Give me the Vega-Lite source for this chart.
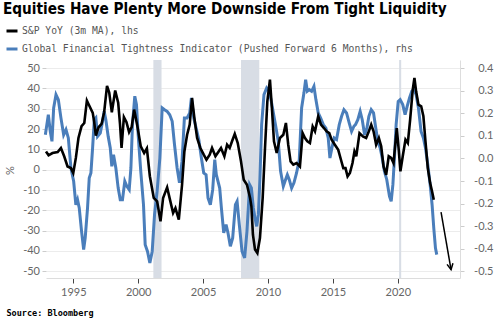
{
  "$schema": "https://vega.github.io/schema/vega-lite/v6.json",
  "width": 414,
  "height": 218,
  "autosize": {"type": "none"},
  "padding": {"left": 46, "top": 60, "right": 40, "bottom": 44},
  "background": "white",
  "config": {"view": {"stroke": null}, "font": "Lato"},
  "title": {"text": "Equities Have Plenty More Downside From Tight Liquidity", "anchor": "start", "frame": "group", "font": "DejaVu Sans Condensed", "fontWeight": "bold", "fontSize": 15.2, "color": "#000000", "dx": -43, "dy": 13, "offset": 8, "baseline": "alphabetic"},
  "datasets": {
    "spx": [
      {"t": 1992.9, "v": 9.0}, {"t": 1993.1, "v": 7.1}, {"t": 1993.4, "v": 8.2}, {"t": 1993.8, "v": 8.7}, {"t": 1994.05, "v": 10.7}, {"t": 1994.3, "v": 6.6}, {"t": 1994.56, "v": 1.6}, {"t": 1994.82, "v": 0.8}, {"t": 1995.0, "v": -1.6}, {"t": 1995.2, "v": 5.8}, {"t": 1995.4, "v": 15.6}, {"t": 1995.64, "v": 21.4}, {"t": 1995.85, "v": 23}, {"t": 1996.05, "v": 34}, {"t": 1996.2, "v": 32}, {"t": 1996.5, "v": 28}, {"t": 1996.6, "v": 24}, {"t": 1996.74, "v": 16.8}, {"t": 1996.95, "v": 20.9}, {"t": 1997.18, "v": 22.5}, {"t": 1997.38, "v": 28.3}, {"t": 1997.6, "v": 41.3}, {"t": 1997.77, "v": 38}, {"t": 1997.97, "v": 28.3}, {"t": 1998.23, "v": 39}, {"t": 1998.46, "v": 33}, {"t": 1998.6, "v": 22.5}, {"t": 1998.72, "v": 10.7}, {"t": 1998.9, "v": 25.9}, {"t": 1999.1, "v": 23.4}, {"t": 1999.3, "v": 18.5}, {"t": 1999.5, "v": 21}, {"t": 1999.69, "v": 29.6}, {"t": 1999.95, "v": 21}, {"t": 2000.2, "v": 11.5}, {"t": 2000.46, "v": 8.2}, {"t": 2000.67, "v": 10.5}, {"t": 2000.9, "v": -3.2}, {"t": 2001.2, "v": -13.9}, {"t": 2001.46, "v": -15.6}, {"t": 2001.72, "v": -25.4}, {"t": 2001.92, "v": -13.9}, {"t": 2002.23, "v": -8.7}, {"t": 2002.48, "v": -15.6}, {"t": 2002.69, "v": -21.3}, {"t": 2002.87, "v": -18.9}, {"t": 2003.13, "v": -24.6}, {"t": 2003.38, "v": -7.4}, {"t": 2003.56, "v": 9}, {"t": 2003.77, "v": 17.2}, {"t": 2003.97, "v": 22.2}, {"t": 2004.15, "v": 35.3}, {"t": 2004.33, "v": 25.4}, {"t": 2004.54, "v": 15.6}, {"t": 2004.79, "v": 10.7}, {"t": 2005.05, "v": 7.4}, {"t": 2005.26, "v": 4.9}, {"t": 2005.51, "v": 7.4}, {"t": 2005.69, "v": 10.7}, {"t": 2005.95, "v": 6.6}, {"t": 2006.2, "v": 9}, {"t": 2006.38, "v": 10.7}, {"t": 2006.64, "v": 6.6}, {"t": 2006.85, "v": 12.3}, {"t": 2007.05, "v": 10.7}, {"t": 2007.23, "v": 14}, {"t": 2007.44, "v": 17.6}, {"t": 2007.67, "v": 13.1}, {"t": 2007.92, "v": 4.1}, {"t": 2008.13, "v": -4.9}, {"t": 2008.38, "v": -7.4}, {"t": 2008.62, "v": -13.9}, {"t": 2008.72, "v": -18}, {"t": 2008.84, "v": -32}, {"t": 2009.0, "v": -39.3}, {"t": 2009.18, "v": -41}, {"t": 2009.38, "v": -33.6}, {"t": 2009.59, "v": -13.9}, {"t": 2009.77, "v": 10.7}, {"t": 2009.95, "v": 33.7}, {"t": 2010.15, "v": 44.3}, {"t": 2010.3, "v": 30.4}, {"t": 2010.46, "v": 14}, {"t": 2010.67, "v": 8.2}, {"t": 2010.92, "v": 15.6}, {"t": 2011.18, "v": 17.2}, {"t": 2011.38, "v": 23}, {"t": 2011.56, "v": 12.3}, {"t": 2011.74, "v": 4.1}, {"t": 2011.95, "v": 2.5}, {"t": 2012.2, "v": 3.3}, {"t": 2012.46, "v": 1.6}, {"t": 2012.67, "v": 18}, {"t": 2012.85, "v": 15.6}, {"t": 2013.03, "v": 14}, {"t": 2013.23, "v": 13.1}, {"t": 2013.44, "v": 21.3}, {"t": 2013.62, "v": 18.9}, {"t": 2013.87, "v": 26.3}, {"t": 2014.08, "v": 22.2}, {"t": 2014.31, "v": 20.5}, {"t": 2014.51, "v": 18.9}, {"t": 2014.72, "v": 18}, {"t": 2014.9, "v": 14.8}, {"t": 2015.15, "v": 12.3}, {"t": 2015.41, "v": 9.8}, {"t": 2015.62, "v": 4.9}, {"t": 2015.8, "v": 0.8}, {"t": 2015.97, "v": 0.8}, {"t": 2016.13, "v": -3.3}, {"t": 2016.31, "v": -1.6}, {"t": 2016.51, "v": 3.3}, {"t": 2016.66, "v": 9}, {"t": 2016.8, "v": 6.6}, {"t": 2017.05, "v": 18}, {"t": 2017.31, "v": 16.4}, {"t": 2017.56, "v": 15.6}, {"t": 2017.77, "v": 18.9}, {"t": 2017.95, "v": 22.2}, {"t": 2018.13, "v": 18.9}, {"t": 2018.33, "v": 12.3}, {"t": 2018.54, "v": 15.6}, {"t": 2018.72, "v": 11.5}, {"t": 2018.9, "v": 1.6}, {"t": 2019.1, "v": -2.5}, {"t": 2019.3, "v": 6.6}, {"t": 2019.49, "v": 5.8}, {"t": 2019.67, "v": 3.3}, {"t": 2019.92, "v": 20.5}, {"t": 2020.08, "v": 9}, {"t": 2020.2, "v": -0.8}, {"t": 2020.38, "v": 6.6}, {"t": 2020.59, "v": 14.8}, {"t": 2020.77, "v": 13.1}, {"t": 2020.95, "v": 24.6}, {"t": 2021.15, "v": 39.4}, {"t": 2021.28, "v": 45.2}, {"t": 2021.41, "v": 38.6}, {"t": 2021.59, "v": 32}, {"t": 2021.8, "v": 31.2}, {"t": 2021.97, "v": 26.3}, {"t": 2022.13, "v": 14}, {"t": 2022.31, "v": 0.8}, {"t": 2022.49, "v": -6.6}, {"t": 2022.64, "v": -10.7}, {"t": 2022.77, "v": -14.8}
    ],
    "gfti": [
      {"t": 1992.85, "v": 0.105}, {"t": 1993.08, "v": 0.194}, {"t": 1993.23, "v": 0.12}, {"t": 1993.36, "v": 0.076}, {"t": 1993.49, "v": 0.224}, {"t": 1993.67, "v": 0.283}, {"t": 1993.85, "v": 0.261}, {"t": 1994.05, "v": 0.18}, {"t": 1994.26, "v": 0.105}, {"t": 1994.44, "v": 0.128}, {"t": 1994.62, "v": 0.091}, {"t": 1994.82, "v": -0.042}, {"t": 1995.03, "v": -0.101}, {"t": 1995.2, "v": -0.205}, {"t": 1995.33, "v": -0.183}, {"t": 1995.46, "v": -0.219}, {"t": 1995.64, "v": -0.323}, {"t": 1995.8, "v": -0.404}, {"t": 1995.92, "v": -0.352}, {"t": 1996.1, "v": -0.219}, {"t": 1996.23, "v": -0.087}, {"t": 1996.36, "v": -0.064}, {"t": 1996.49, "v": 0.047}, {"t": 1996.62, "v": 0.172}, {"t": 1996.74, "v": 0.18}, {"t": 1996.87, "v": 0.098}, {"t": 1997.08, "v": 0.113}, {"t": 1997.26, "v": 0.165}, {"t": 1997.38, "v": 0.209}, {"t": 1997.51, "v": 0.172}, {"t": 1997.69, "v": 0.098}, {"t": 1997.85, "v": 0.047}, {"t": 1997.97, "v": -0.035}, {"t": 1998.1, "v": 0.017}, {"t": 1998.28, "v": -0.042}, {"t": 1998.46, "v": -0.131}, {"t": 1998.62, "v": -0.183}, {"t": 1998.79, "v": -0.183}, {"t": 1998.97, "v": -0.101}, {"t": 1999.13, "v": -0.123}, {"t": 1999.31, "v": -0.138}, {"t": 1999.44, "v": -0.042}, {"t": 1999.56, "v": 0.15}, {"t": 1999.74, "v": 0.276}, {"t": 1999.87, "v": 0.239}, {"t": 2000.0, "v": 0.105}, {"t": 2000.2, "v": -0.057}, {"t": 2000.41, "v": -0.205}, {"t": 2000.54, "v": -0.382}, {"t": 2000.72, "v": -0.412}, {"t": 2000.9, "v": -0.463}, {"t": 2001.08, "v": -0.412}, {"t": 2001.26, "v": -0.249}, {"t": 2001.46, "v": -0.145}, {"t": 2001.67, "v": 0.002}, {"t": 2001.85, "v": 0.224}, {"t": 2002.03, "v": 0.216}, {"t": 2002.23, "v": 0.209}, {"t": 2002.43, "v": 0.194}, {"t": 2002.62, "v": 0.165}, {"t": 2002.8, "v": 0.061}, {"t": 2003.0, "v": -0.042}, {"t": 2003.18, "v": -0.108}, {"t": 2003.38, "v": -0.012}, {"t": 2003.56, "v": 0.18}, {"t": 2003.77, "v": 0.18}, {"t": 2003.97, "v": 0.202}, {"t": 2004.1, "v": 0.268}, {"t": 2004.28, "v": 0.18}, {"t": 2004.49, "v": 0.128}, {"t": 2004.67, "v": 0.084}, {"t": 2004.87, "v": 0.002}, {"t": 2005.05, "v": -0.064}, {"t": 2005.23, "v": -0.072}, {"t": 2005.38, "v": -0.175}, {"t": 2005.56, "v": -0.205}, {"t": 2005.74, "v": -0.138}, {"t": 2005.9, "v": -0.005}, {"t": 2006.02, "v": -0.072}, {"t": 2006.15, "v": -0.101}, {"t": 2006.28, "v": -0.131}, {"t": 2006.41, "v": -0.219}, {"t": 2006.59, "v": -0.33}, {"t": 2006.77, "v": -0.293}, {"t": 2006.92, "v": -0.33}, {"t": 2007.1, "v": -0.389}, {"t": 2007.28, "v": -0.352}, {"t": 2007.49, "v": -0.205}, {"t": 2007.62, "v": -0.19}, {"t": 2007.79, "v": -0.293}, {"t": 2008.0, "v": -0.412}, {"t": 2008.2, "v": -0.441}, {"t": 2008.38, "v": -0.323}, {"t": 2008.59, "v": -0.116}, {"t": 2008.72, "v": -0.13}, {"t": 2008.87, "v": -0.219}, {"t": 2009.0, "v": -0.264}, {"t": 2009.13, "v": -0.301}, {"t": 2009.26, "v": -0.249}, {"t": 2009.38, "v": -0.087}, {"t": 2009.51, "v": 0.15}, {"t": 2009.69, "v": 0.283}, {"t": 2009.9, "v": 0.313}, {"t": 2010.1, "v": 0.298}, {"t": 2010.28, "v": 0.246}, {"t": 2010.46, "v": 0.187}, {"t": 2010.62, "v": 0.135}, {"t": 2010.79, "v": 0.076}, {"t": 2010.97, "v": -0.057}, {"t": 2011.18, "v": -0.123}, {"t": 2011.31, "v": -0.101}, {"t": 2011.49, "v": -0.072}, {"t": 2011.64, "v": -0.094}, {"t": 2011.82, "v": -0.131}, {"t": 2012.0, "v": -0.108}, {"t": 2012.2, "v": -0.064}, {"t": 2012.41, "v": -0.005}, {"t": 2012.59, "v": 0.224}, {"t": 2012.77, "v": 0.291}, {"t": 2012.9, "v": 0.349}, {"t": 2013.03, "v": 0.298}, {"t": 2013.18, "v": 0.305}, {"t": 2013.36, "v": 0.298}, {"t": 2013.54, "v": 0.32}, {"t": 2013.69, "v": 0.261}, {"t": 2013.87, "v": 0.202}, {"t": 2014.05, "v": 0.18}, {"t": 2014.26, "v": 0.15}, {"t": 2014.46, "v": 0.135}, {"t": 2014.64, "v": 0.091}, {"t": 2014.77, "v": 0.002}, {"t": 2014.95, "v": 0.054}, {"t": 2015.1, "v": 0.091}, {"t": 2015.28, "v": 0.084}, {"t": 2015.49, "v": 0.15}, {"t": 2015.67, "v": 0.187}, {"t": 2015.85, "v": 0.216}, {"t": 2016.05, "v": 0.202}, {"t": 2016.26, "v": 0.157}, {"t": 2016.44, "v": 0.12}, {"t": 2016.62, "v": 0.143}, {"t": 2016.74, "v": 0.15}, {"t": 2016.92, "v": 0.172}, {"t": 2017.1, "v": 0.209}, {"t": 2017.26, "v": 0.172}, {"t": 2017.44, "v": 0.105}, {"t": 2017.62, "v": 0.135}, {"t": 2017.77, "v": 0.187}, {"t": 2017.95, "v": 0.216}, {"t": 2018.13, "v": 0.202}, {"t": 2018.28, "v": 0.143}, {"t": 2018.46, "v": 0.076}, {"t": 2018.64, "v": 0.047}, {"t": 2018.8, "v": 0.002}, {"t": 2018.97, "v": -0.057}, {"t": 2019.15, "v": -0.094}, {"t": 2019.36, "v": -0.168}, {"t": 2019.49, "v": -0.19}, {"t": 2019.62, "v": -0.116}, {"t": 2019.74, "v": 0.002}, {"t": 2019.87, "v": 0.15}, {"t": 2020.03, "v": 0.253}, {"t": 2020.18, "v": 0.261}, {"t": 2020.38, "v": 0.239}, {"t": 2020.56, "v": 0.194}, {"t": 2020.72, "v": 0.231}, {"t": 2020.9, "v": 0.268}, {"t": 2021.08, "v": 0.298}, {"t": 2021.23, "v": 0.305}, {"t": 2021.41, "v": 0.283}, {"t": 2021.59, "v": 0.224}, {"t": 2021.79, "v": 0.12}, {"t": 2021.97, "v": 0.091}, {"t": 2022.13, "v": 0.047}, {"t": 2022.31, "v": -0.027}, {"t": 2022.49, "v": -0.116}, {"t": 2022.64, "v": -0.205}, {"t": 2022.77, "v": -0.308}, {"t": 2022.9, "v": -0.397}, {"t": 2023.0, "v": -0.426}
    ],
    "recessions": [
      {"start": 2001.17, "end": 2001.8},
      {"start": 2007.92, "end": 2009.33},
      {"start": 2020.1, "end": 2020.26}
    ],
    "arrow": [
      {"t0": 2023.33, "v0": -0.238, "t1": 2024.1, "v1": -0.493}
    ]
  },
  "encoding": {
    "x": {
      "field": "t",
      "type": "quantitative",
      "scale": {"domain": [1992.9, 2024.79], "nice": false, "zero": false},
      "axis": {
        "values": [1995, 2000, 2005, 2010, 2015, 2020],
        "format": "d",
        "grid": false,
        "domainColor": "#dddddd",
        "tickColor": "#444444",
        "tickSize": 5,
        "labelColor": "#666666",
        "labelFont": "Lato",
        "labelFontSize": 11,
        "labelPadding": 3,
        "title": "Source: Bloomberg",
        "titleX": -40,
        "titleY": 34,
        "titleAlign": "left",
        "titleBaseline": "middle",
        "titleFont": "DejaVu Sans Mono",
        "titleFontWeight": "bold",
        "titleFontSize": 8.5,
        "titleColor": "#000000"
      }
    }
  },
  "layer": [
    {
      "layer": [
        {
          "data": {"name": "recessions"},
          "mark": {"type": "rect", "color": "#d8dde5"},
          "encoding": {
            "x": {"field": "start", "type": "quantitative"},
            "x2": {"field": "end"}
          }
        },
        {
          "data": {"values": [{}]},
          "mark": {"type": "rule", "color": "#aaaaaa", "strokeDash": [3, 3], "strokeWidth": 1},
          "encoding": {
            "y": {"datum": 0, "type": "quantitative", "scale": {"domain": [-53.3, 54], "nice": false, "zero": false}, "axis": null}
          }
        }
      ]
    },
    {
      "data": {"name": "gfti"},
      "mark": {"type": "line", "strokeWidth": 3},
      "encoding": {
        "y": {
          "field": "v",
          "type": "quantitative",
          "scale": {"domain": [-0.5297, 0.4366], "nice": false, "zero": false},
          "axis": {
            "orient": "right",
            "values": [-0.5, -0.4, -0.3, -0.2, -0.1, 0, 0.1, 0.2, 0.3, 0.4],
            "labelExpr": "datum.value < -0.0001 ? '-' + format(-datum.value, '.1f') : format(datum.value, '.1f')",
            "labelOverlap": false,
            "grid": false,
            "domainColor": "#dddddd",
            "tickColor": "#cccccc",
            "tickSize": 4,
            "labelAlign": "right",
            "labelPadding": 29,
            "labelColor": "#666666",
            "labelFont": "Lato",
            "labelFontSize": 11,
            "title": null
          }
        },
        "color": {
          "datum": "Global Financial Tightness Indicator (Pushed Forward 6 Months), rhs",
          "type": "nominal",
          "scale": {
            "domain": ["S&P YoY (3m MA), lhs", "Global Financial Tightness Indicator (Pushed Forward 6 Months), rhs"],
            "range": ["#000000", "#4a7ebb"]
          },
          "legend": {
            "orient": "none",
            "legendX": -41,
            "legendY": -36,
            "title": null,
            "padding": 0,
            "symbolType": "stroke",
            "symbolSize": 121,
            "symbolStrokeWidth": 3,
            "labelOffset": 3,
            "rowPadding": 5,
            "labelFont": "DejaVu Sans Mono",
            "labelFontSize": 9.7,
            "labelColor": "#555555",
            "labelLimit": 0
          }
        }
      }
    },
    {
      "data": {"name": "arrow"},
      "mark": {"type": "rule", "color": "#000000", "strokeWidth": 1.5},
      "encoding": {
        "x": {"field": "t0", "type": "quantitative"},
        "y": {"field": "v0", "type": "quantitative", "scale": {"domain": [-0.5297, 0.4366], "nice": false, "zero": false}, "axis": null},
        "x2": {"field": "t1"},
        "y2": {"field": "v1"}
      }
    },
    {
      "data": {"name": "arrow"},
      "mark": {"type": "point", "shape": "M-1,-2L0,0L1,-2", "filled": false, "stroke": "#000000", "strokeWidth": 1.5, "size": 36, "angle": 350, "opacity": 1},
      "encoding": {
        "x": {"field": "t1", "type": "quantitative"},
        "y": {"field": "v1", "type": "quantitative", "scale": {"domain": [-0.5297, 0.4366], "nice": false, "zero": false}, "axis": null}
      }
    },
    {
      "data": {"name": "spx"},
      "mark": {"type": "line", "strokeWidth": 2.6},
      "encoding": {
        "y": {
          "field": "v",
          "type": "quantitative",
          "scale": {"domain": [-53.3, 54], "nice": false, "zero": false},
          "axis": {
            "orient": "left",
            "values": [-50, -40, -30, -20, -10, 0, 10, 20, 30, 40, 50],
            "labelExpr": "datum.value < 0 ? '-' + format(-datum.value, 'd') : format(datum.value, 'd')",
            "grid": true,
            "gridColor": "#ececec",
            "domain": false,
            "tickColor": "#cccccc",
            "tickSize": 4,
            "labelPadding": 2.5,
            "labelColor": "#666666",
            "labelFont": "Lato",
            "labelFontSize": 11,
            "title": "%",
            "titleColor": "#666666",
            "titleFont": "Lato",
            "titleFontSize": 11,
            "titleFontWeight": "normal",
            "titleX": -36,
            "titleY": 110,
            "titleAlign": "center",
            "titleBaseline": "middle"
          }
        },
        "color": {"datum": "S&P YoY (3m MA), lhs", "type": "nominal"}
      }
    }
  ],
  "resolve": {"scale": {"y": "independent"}}
}
